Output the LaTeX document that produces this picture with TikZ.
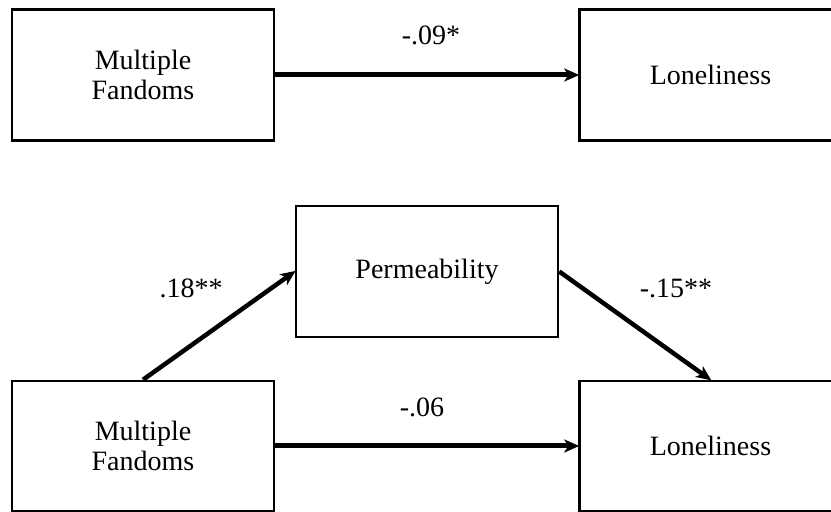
\documentclass[tikz,border=0pt]{standalone}
\usepackage{fontspec}
\setmainfont{Liberation Serif}
\usetikzlibrary{arrows.meta}
\begin{document}
\begin{tikzpicture}[x=1pt,y=1pt,
  varbox/.style={draw=black, line width=2.5pt, inner sep=0pt, minimum width=262pt, minimum height=131pt, align=center, font=\fontsize{28}{30}\selectfont},
  path/.style={line width=5pt, -{Stealth[length=15pt,width=13pt,inset=4pt]}, shorten >=-1pt},
  coef/.style={anchor=base, inner sep=0pt, font=\fontsize{28}{30}\selectfont}]
\useasboundingbox (0,0) rectangle (831,512);
\clip (0,0) rectangle (831,512);
% top model
\node[varbox] (tl) at (143,437) {Multiple\\Fandoms};
\node[varbox] (tr) at (710.5,437) {Loneliness};
\draw[path] (tl.east) -- (tr.west);
\node[coef] (c1) at (431,467) {-.09*};
% bottom model
\node[varbox] (perm) at (427,240.5) {Permeability};
\node[varbox, minimum height=130pt] (bl) at (143,66) {Multiple\\Fandoms};
\node[varbox, minimum height=130pt] (br) at (710.5,66) {Loneliness};
\draw[path, line width=4.5pt] (bl.north) -- (perm.west);
\draw[path, line width=4.5pt] (perm.east) -- (br.north);
\draw[path] (bl.east) -- (br.west);
\node[coef] (c2) at (191,214) {.18**};
\node[coef] (c3) at (676,214) {-.15**};
\node[coef] (c4) at (422,95) {-.06};
\end{tikzpicture}
\end{document}
